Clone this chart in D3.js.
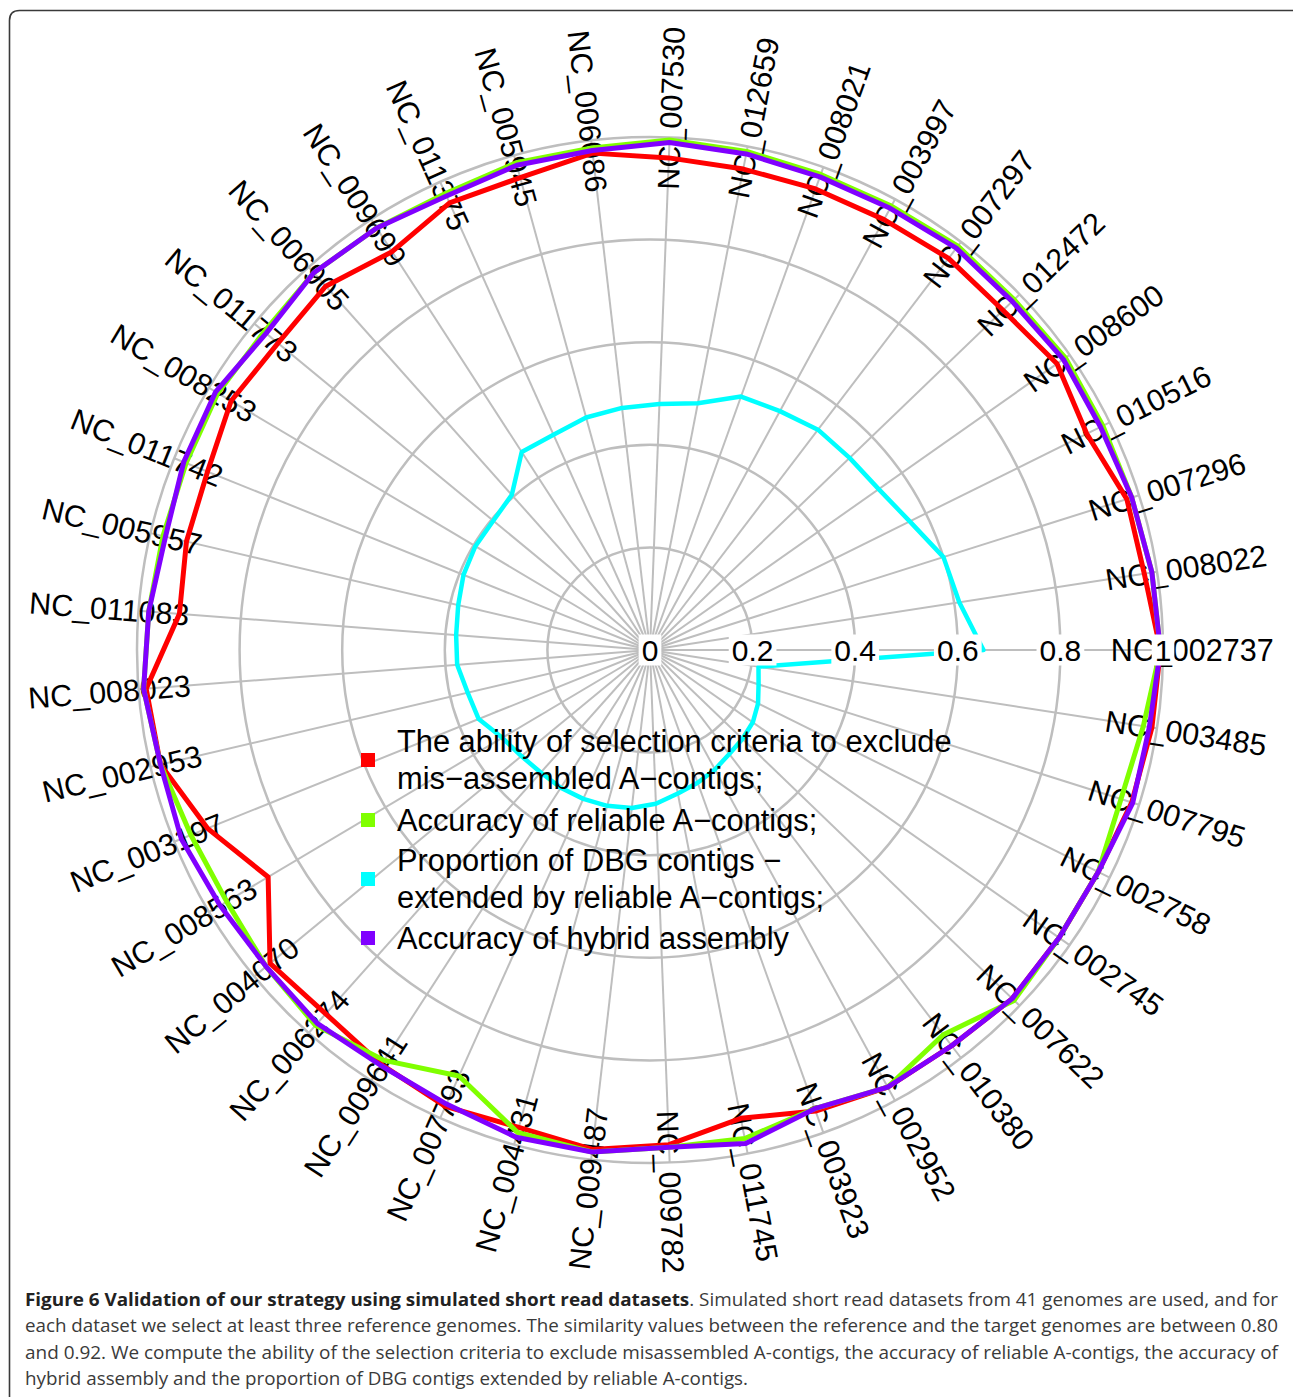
<!DOCTYPE html>
<html>
<head>
<meta charset="utf-8">
<script src="https://cdn.jsdelivr.net/npm/d3@7"></script>
<style>
  html, body { margin: 0; padding: 0; background: #ffffff; }
  svg { display: block; }
</style>
</head>
<body>
<svg id="chart" width="1293" height="1397"></svg>
<script>
// Genomes, one spoke each, counter-clockwise from 3 o'clock
const genomes = [
  "NC_002737", "NC_008022", "NC_007296", "NC_010516", "NC_008600", "NC_012472",
  "NC_007297", "NC_003997", "NC_008021", "NC_012659", "NC_007530", "NC_006086",
  "NC_005945", "NC_011375", "NC_009699", "NC_006905", "NC_011773", "NC_008253",
  "NC_011742", "NC_005957", "NC_011083", "NC_008023", "NC_002953", "NC_003197",
  "NC_008563", "NC_004070", "NC_006274", "NC_009641", "NC_007793", "NC_004431",
  "NC_009487", "NC_009782", "NC_011745", "NC_003923", "NC_002952", "NC_010380",
  "NC_007622", "NC_002745", "NC_002758", "NC_007795", "NC_003485"
];

// Ability of the selection criteria to exclude mis-assembled A-contigs
const exclusionAbility = [
  0.995, 0.975, 0.975, 0.950, 0.970, 0.955, 0.960, 0.955, 0.955, 0.955,
  0.960, 0.975, 0.955, 0.955, 0.925, 0.950, 0.940, 0.950, 0.930, 0.928,
  0.920, 0.985, 0.980, 0.930, 0.866, 0.960, 0.950, 0.963, 0.975, 0.965,
  0.980, 0.965, 0.930, 0.955, 0.970, 0.970, 0.980, 0.975, 0.975, 0.985,
  0.990
];

// Accuracy of reliable A-contigs
const reliableAccuracy = [
  0.995, 0.990, 0.985, 0.985, 0.990, 0.985, 0.990, 0.985, 0.985, 0.990,
  0.995, 0.985, 0.985, 0.975, 0.980, 0.985, 0.975, 0.980, 0.975, 0.975,
  0.980, 0.990, 0.980, 0.965, 0.960, 0.970, 0.980, 0.953, 0.910, 0.975,
  0.985, 0.970, 0.970, 0.950, 0.970, 0.943, 0.985, 0.975, 0.975, 0.963,
  0.973
];

// Proportion of DBG contigs extended by reliable A-contigs
const dbgExtended = [
  0.650, 0.610, 0.600, 0.565, 0.545, 0.540, 0.540, 0.530, 0.525, 0.490,
  0.480, 0.475, 0.470, 0.460, 0.460, 0.405, 0.396, 0.396, 0.392, 0.384,
  0.379, 0.377, 0.365, 0.360, 0.335, 0.325, 0.320, 0.320, 0.318, 0.315,
  0.310, 0.300, 0.285, 0.275, 0.265, 0.255, 0.250, 0.245, 0.235, 0.222,
  0.214
];

// Accuracy of hybrid assembly
const hybridAccuracy = [
  0.995, 0.990, 0.985, 0.980, 0.985, 0.980, 0.985, 0.980, 0.980, 0.985,
  0.990, 0.980, 0.980, 0.970, 0.980, 0.985, 0.970, 0.985, 0.980, 0.970,
  0.980, 0.990, 0.980, 0.985, 0.975, 0.970, 0.975, 0.965, 0.970, 0.985,
  0.985, 0.970, 0.980, 0.950, 0.970, 0.970, 0.980, 0.975, 0.975, 0.987,
  0.985
];

const tickValues = [0, 0.2, 0.4, 0.6, 0.8, 1];
const tickLabels = ["0", "0.2", "0.4", "0.6", "0.8", "1"];

const seriesLegend = [
  ["The ability of selection criteria to exclude", "mis\u2212assembled A\u2212contigs;"],
  ["Accuracy of reliable A\u2212contigs;"],
  ["Proportion of DBG contigs \u2212", "extended by reliable A\u2212contigs;"],
  ["Accuracy of hybrid assembly"]
];
const seriesColors = ["#ff0000", "#80ff00", "#00ffff", "#8000ff"];
const seriesValues = [exclusionAbility, reliableAccuracy, dbgExtended, hybridAccuracy];

const captionBold = "Figure 6 Validation of our strategy using simulated short read datasets";
const captionLines = [
  ". Simulated short read datasets from 41 genomes are used, and for",
  "each dataset we select at least three reference genomes. The similarity values between the reference and the target genomes are between 0.80",
  "and 0.92. We compute the ability of the selection criteria to exclude misassembled A-contigs, the accuracy of reliable A-contigs, the accuracy of",
  "hybrid assembly and the proportion of DBG contigs extended by reliable A-contigs."
];

// ---- layout ----
const svg = d3.select("#chart");
const cx = 650, cy = 650, R = 513;
const n = genomes.length;
const FONT = "'Liberation Sans', Arial, Helvetica, sans-serif";

const r = d3.scaleLinear().domain([0, 1]).range([0, R]);
// spoke angle, counter-clockwise from the positive x axis
const theta = d3.scaleLinear().domain([0, n]).range([0, 2 * Math.PI]);

// frame
svg.append("path")
  .attr("d", "M9.5,1405 L9.5,20.5 Q9.5,10.5 19.5,10.5 L1300,10.5")
  .attr("fill", "none")
  .attr("stroke", "#3a3a3a")
  .attr("stroke-width", 1.6);

const g = svg.append("g").attr("transform", `translate(${cx},${cy})`);

// concentric grid
g.append("g").selectAll("circle")
  .data(tickValues.filter(v => v > 0))
  .join("circle")
  .attr("r", d => r(d))
  .attr("fill", "none")
  .attr("stroke", "#bebebe")
  .attr("stroke-width", 2.5);

// spokes
g.append("g").selectAll("line")
  .data(genomes)
  .join("line")
  .attr("x1", 0).attr("y1", 0)
  .attr("x2", (d, i) => r(1) * Math.cos(theta(i)))
  .attr("y2", (d, i) => -r(1) * Math.sin(theta(i)))
  .attr("stroke", "#bebebe")
  .attr("stroke-width", 2);

// spoke labels, rotated along the spoke, kept upright on the left half
const labelR = r(1.057);
g.append("g").selectAll("text")
  .data(genomes)
  .join("text")
  .attr("transform", (d, i) => {
    const t = theta(i);
    const deg = t * 180 / Math.PI;
    const x = labelR * Math.cos(t), y = -labelR * Math.sin(t);
    const rot = (deg > 90 && deg < 270) ? 180 - deg : -deg;
    return `translate(${x},${y}) rotate(${rot})`;
  })
  .attr("text-anchor", "middle")
  .attr("dominant-baseline", "central")
  .attr("font-family", FONT)
  .attr("font-size", 30.5)
  .attr("fill", "#000")
  .text(d => d);

// series polygons
const radial = d3.lineRadial()
  .angle((d, i) => Math.PI / 2 - theta(i))
  .radius(d => r(d))
  .curve(d3.curveLinearClosed);

g.append("g").selectAll("path")
  .data(seriesValues)
  .join("path")
  .attr("d", d => radial(d))
  .attr("fill", "none")
  .attr("stroke", (d, i) => seriesColors[i])
  .attr("stroke-width", (d, i) => i === 2 ? 4.5 : 5)
  .attr("stroke-linejoin", "round");

// axis tick labels on white boxes along the first spoke
const ticks = g.append("g").selectAll("g")
  .data(tickValues)
  .join("g")
  .attr("transform", d => `translate(${r(d)},0)`);
ticks.append("text")
  .attr("text-anchor", "middle")
  .attr("dominant-baseline", "central")
  .attr("font-family", FONT)
  .attr("font-size", 30)
  .attr("fill", "#000")
  .text((d, i) => tickLabels[i]);
ticks.each(function () {
  const grp = d3.select(this);
  const bb = grp.select("text").node().getBBox();
  grp.insert("rect", "text")
    .attr("x", bb.x - 3).attr("y", bb.y + 1)
    .attr("width", bb.width + 6).attr("height", bb.height - 2)
    .attr("fill", "#fff");
});

// legend
const legendY = [760, 820, 879, 938];
const legend = svg.append("g");
seriesLegend.forEach((lines, i) => {
  legend.append("rect")
    .attr("x", 361).attr("y", legendY[i] - 7)
    .attr("width", 14).attr("height", 14)
    .attr("fill", seriesColors[i]);
  const t = legend.append("text")
    .attr("font-family", FONT)
    .attr("font-size", 30.8)
    .attr("fill", "#000");
  const y0 = lines.length === 1 ? legendY[i] : legendY[i] - 18.5;
  lines.forEach((ln, k) => {
    t.append("tspan")
      .attr("x", 397)
      .attr("y", y0 + k * 37)
      .attr("dominant-baseline", "central")
      .text(ln);
  });
});

// caption
const CAP_FONT = "'Open Sans', 'Noto Sans', sans-serif";
const capY = [1306, 1332, 1358.5, 1385];
const capWidths = [1253, 1253, 1253, 723];
captionLines.forEach((ln, i) => {
  const t = svg.append("text")
    .attr("x", 25).attr("y", capY[i])
    .attr("font-family", CAP_FONT)
    .attr("font-size", 17.5)
    .attr("fill", "#3a3a3a")
    .attr("textLength", capWidths[i])
    .attr("lengthAdjust", "spacingAndGlyphs");
  if (i === 0) {
    t.append("tspan").attr("font-weight", "bold").attr("fill", "#222").text(captionBold);
  }
  t.append("tspan").text(ln);
});
</script>
</body>
</html>
